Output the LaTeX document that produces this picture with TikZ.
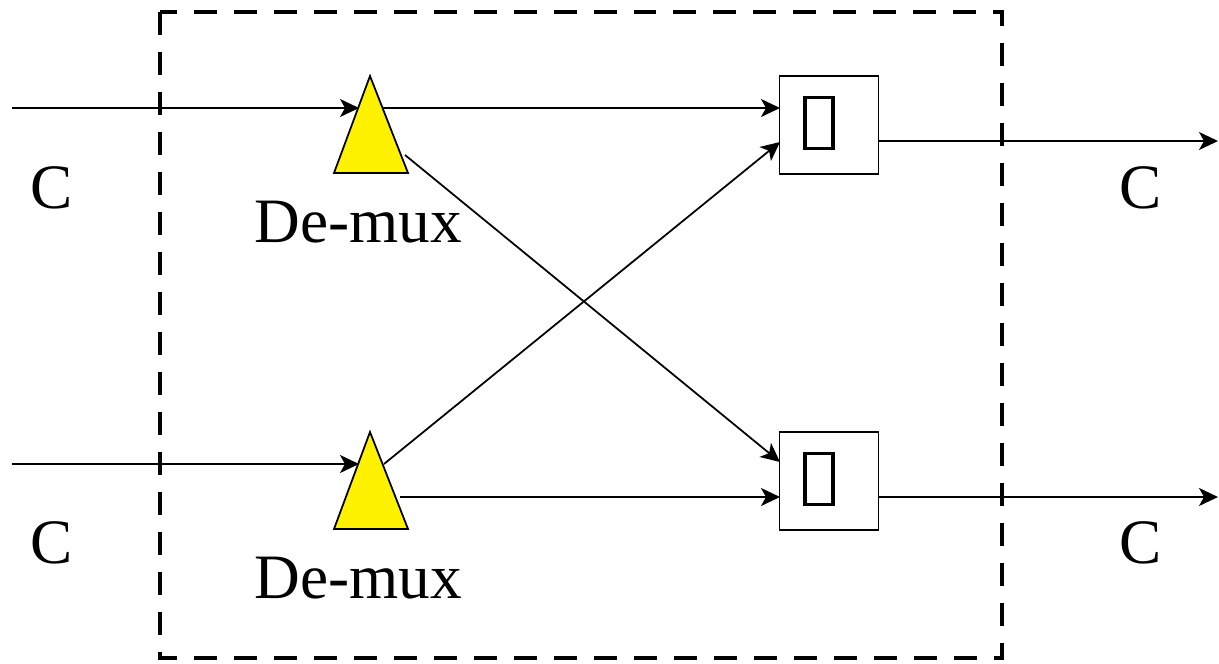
\documentclass[tikz,border=0pt]{standalone}
\usepackage{fontspec}
\setmainfont{Liberation Serif}
\usetikzlibrary{positioning}
\usetikzlibrary{arrows.meta}

\tikzset{
 demux/.style={fill=yellow,draw=black,line width=1pt},
 cell/.style={draw,line width=1pt,minimum width=1.98cm,minimum height=1.96cm,inner sep=0pt},
 glyph/.style={draw,line width=2.2pt,minimum width=0.56cm,minimum height=1.02cm,inner sep=0pt},
 link/.style={line width=1pt,-{Stealth[length=0.38cm,width=0.36cm,inset=0.1cm]}},
 lbl/.style={font=\fontsize{36}{40}\selectfont,inner sep=0pt}
}

\begin{document}
\begin{tikzpicture}[x=0.02cm,y=-0.02cm]
 \useasboundingbox (0,0) rectangle (1219,663);
 \draw[line width=2.3pt,dash pattern=on 0.46cm off 0.34cm] (160,12) rectangle (1002,658);
 % the two de-multiplexers
 \foreach \n/\y in {1/0,2/356}{
  \fill[demux] (334,173+\y) -- (370,76+\y) -- (408,173+\y) -- cycle;
  \node[lbl] (dm\n) at (358,222+\y) {De-mux};
 }
 % the two combining cells
 \node[cell] (cell1) at (829,125) {};
 \node[glyph] (g1) at (819,123) {};
 \node[cell] (cell2) at (829,481) {};
 \node[glyph] (g2) at (819,479) {};
 % ends of the connectors
 \coordinate (in1) at (12,108);   \coordinate (t1l) at (359,108);
 \coordinate (t1r) at (382,108);  \coordinate (t1d) at (405,155);
 \coordinate (in2) at (12,464);   \coordinate (t2l) at (359,464);
 \coordinate (t2u) at (384,464);  \coordinate (t2r) at (400,497);
 \coordinate (c1a) at (780,108);  \coordinate (c1b) at (780,142);
 \coordinate (c2a) at (780,462);  \coordinate (c2b) at (780,497);
 \coordinate (out1) at (1218,141); \coordinate (out2) at (1218,497);
 \draw[link] (in1) -- (t1l);
 \draw[link] (t1r) -- (c1a);
 \draw[link] (t1d) -- (c2a);
 \draw[link] (in2) -- (t2l);
 \draw[link] (t2u) -- (c1b);
 \draw[link] (t2r) -- (c2b);
 \draw[link] (cell1.east |- out1) -- (out1);
 \draw[link] (cell2.east |- out2) -- (out2);
 \node[lbl] (cin1) at (52,188) {C};
 \node[lbl] (cin2) at (52,543) {C};
 \node[lbl] (cout1) at (1141,188) {C};
 \node[lbl] (cout2) at (1141,543) {C};
\end{tikzpicture}
\end{document}
